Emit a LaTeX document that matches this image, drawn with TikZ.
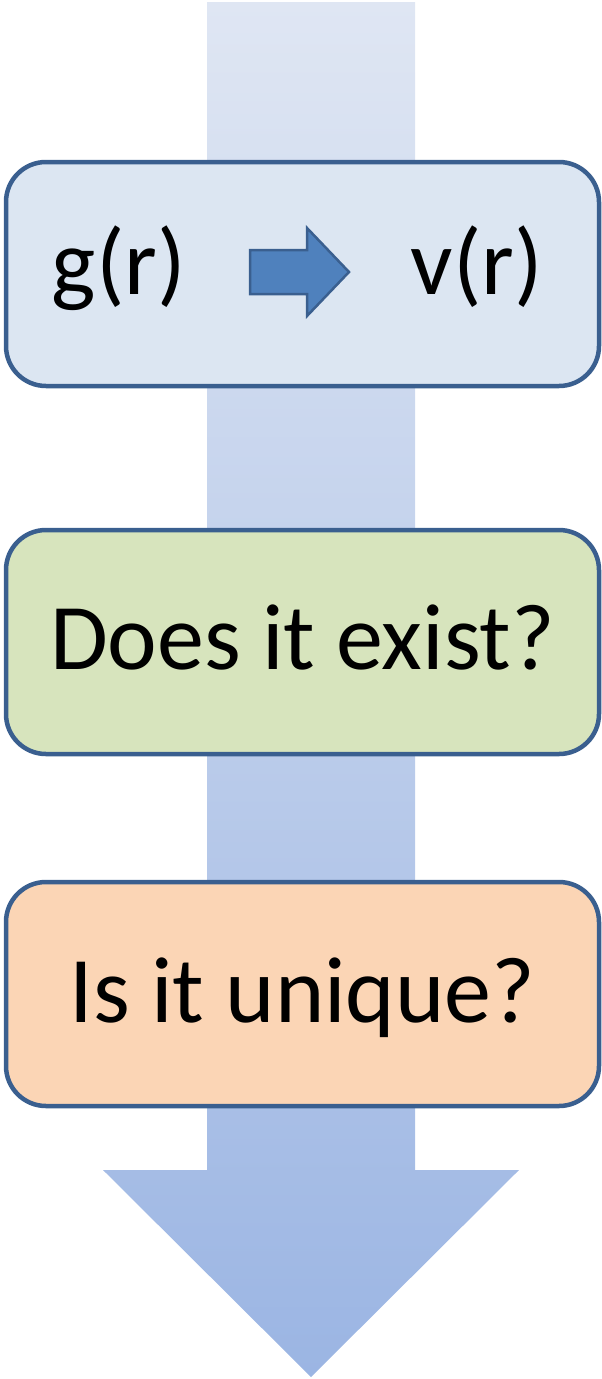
\documentclass[tikz,border=0pt]{standalone}
\usepackage{fontspec}
\setmainfont{Carlito}
\definecolor{bordc}{HTML}{3A5F8F}
\definecolor{fillA}{HTML}{DCE6F2}
\definecolor{fillB}{HTML}{D7E4BD}
\definecolor{fillC}{HTML}{FBD5B5}
\definecolor{arrtop}{HTML}{DFE6F3}
\definecolor{arrbot}{HTML}{9BB5E3}
\definecolor{smallarr}{HTML}{4F81BD}
\begin{document}
\begin{tikzpicture}[x=1pt,y=-1pt,
  qbox/.style={draw=bordc,line width=4.5pt,rounded corners=40pt,minimum width=593pt,minimum height=224pt,inner sep=0pt},
  qtext/.style={font=\fontsize{94}{100}\selectfont,text=black,inner sep=0pt}]
\useasboundingbox (0,0) rectangle (602,1379);
% big background arrow
\shade[top color=arrtop,bottom color=arrbot]
  (207,2) -- (415,2) -- (415,1170) -- (519,1170) -- (311,1377) -- (103,1170) -- (207,1170) -- cycle;
% boxes
\node[qbox,fill=fillA] (b1) at (302.5,274) {};
\node[qbox,fill=fillB] (b2) at (302.5,642) {};
\node[qbox,fill=fillC] (b3) at (302.5,994) {};
% texts
\node[qtext,anchor=base] (g) at (119,294) {g(r)};
\node[qtext,anchor=base] (v) at (477,294) {v(r)};
\node[qtext,anchor=base] (t2) at (b2.center |- 0,669) {Does it exist?};
\node[qtext,anchor=base] (t3) at (b3.center |- 0,1022) {Is it unique?};
% small arrow
\draw[fill=smallarr,draw=bordc,line width=2.5pt,line join=miter]
  (250,250) -- (307,250) -- (307,228) -- (349,272) -- (307,316) -- (307,294) -- (250,294) -- cycle;
\end{tikzpicture}
\end{document}
